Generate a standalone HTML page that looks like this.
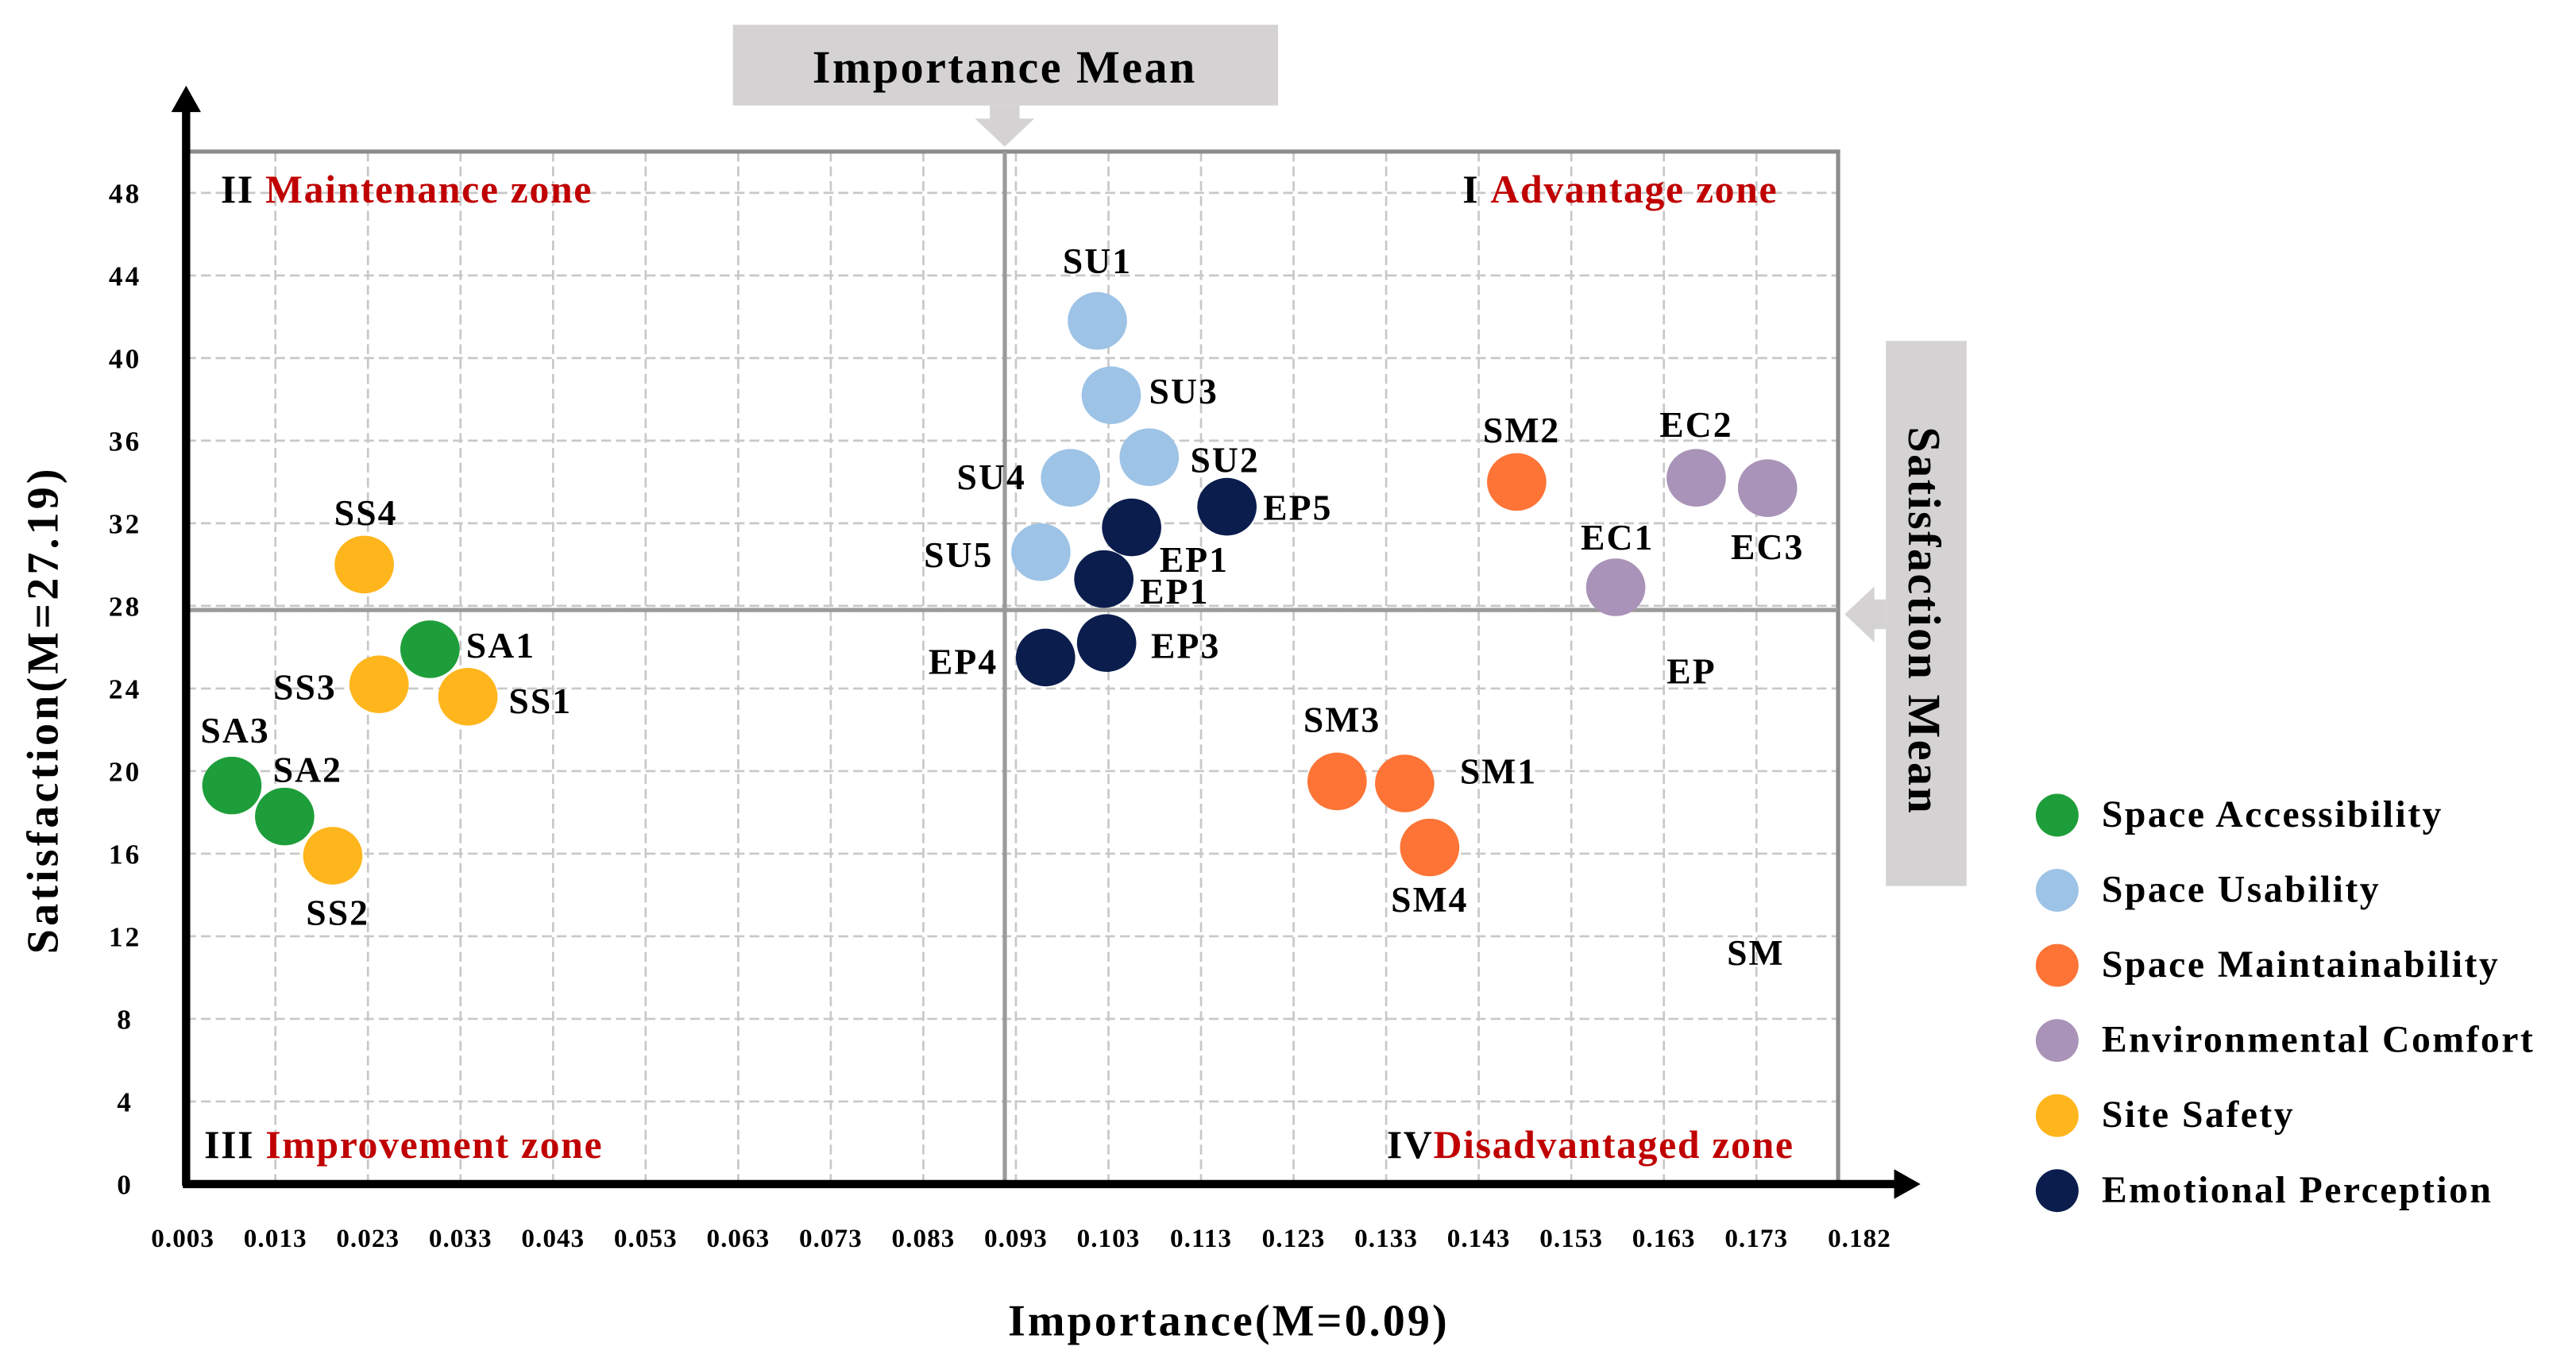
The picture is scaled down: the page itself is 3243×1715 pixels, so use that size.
<!DOCTYPE html>
<html><head><meta charset="utf-8"><style>
html,body{margin:0;padding:0;background:#fff;}
svg{display:block;font-family:"Liberation Serif",serif;font-weight:bold;}
</style></head><body>
<svg id="chart" width="3243" height="1715" viewBox="0 0 1564 827" xmlns="http://www.w3.org/2000/svg">
<g id="grid"></g>
<rect x="113" y="92" width="1003" height="627" fill="none" stroke="#8c8c8c" stroke-width="2.5"/>
<g id="means"></g>
<line x1="113" y1="720" x2="113" y2="66" stroke="#000" stroke-width="5"/>
<polygon points="104,68 122,68 113,52" fill="#000"/>
<line x1="111" y1="719" x2="1152" y2="719" stroke="#000" stroke-width="5"/>
<polygon points="1150,710 1150,728 1166,719" fill="#000"/>
<g id="ticks" font-size="16"></g>
<text x="746" y="811" font-size="27" letter-spacing="1.5" text-anchor="middle">Importance(M=0.09)</text>
<text transform="translate(35,431) rotate(-90)" font-size="27" letter-spacing="2" text-anchor="middle">Satisfaction(M=27.19)</text>
<rect x="445" y="15" width="331" height="49" fill="#d4d2d2"/>
<text x="610" y="50" font-size="28" letter-spacing="1.2" text-anchor="middle">Importance Mean</text>
<polygon points="601,64 619,64 619,72 628,72 610,89 592,72 601,72" fill="#d4d2d2"/>
<rect x="1145" y="207" width="49" height="331" fill="#d4d2d2"/>
<text transform="translate(1159,377) rotate(90)" font-size="28" letter-spacing="1.2" text-anchor="middle">Satisfaction Mean</text>
<polygon points="1145,364 1138,364 1138,356 1120,373 1138,390 1138,382 1145,382" fill="#d4d2d2"/>
<g font-size="24" letter-spacing="0.8">
<text x="134" y="123">II <tspan fill="#c00000">Maintenance zone</tspan></text>
<text x="888" y="123">I  <tspan fill="#c00000">Advantage zone</tspan></text>
<text x="124" y="703">III <tspan fill="#c00000">Improvement zone</tspan></text>
<text x="842" y="703">IV<tspan fill="#c00000">Disadvantaged zone</tspan></text>
</g>
<g id="points"></g>
<g id="labels" font-size="22" letter-spacing="1"></g>
<g id="legend" font-size="23" letter-spacing="1.2"></g>
</svg>
<script>
const xTicks = ["0.003","0.013","0.023","0.033","0.043","0.053","0.063","0.073","0.083","0.093","0.103","0.113","0.123","0.133","0.143","0.153","0.163","0.173","0.182"];
const yTicks = [0,4,8,12,16,20,24,28,32,36,40,44,48];
const meanX = 0.0918;
const meanY = 27.8;
const names = ["SU1","SU3","SU2","SU4","SU5","EP5","EP1","EP1","EP3","EP4","SM2","EC2","EC3","EC1","SM3","SM1","SM4","SS4","SA1","SS3","SS1","SA3","SA2","SS2"];
const importance = [0.1018,0.1033,0.1074,0.0989,0.0957,0.1158,0.1055,0.1025,0.1028,0.0962,0.1471,0.1665,0.1742,0.1578,0.1277,0.1350,0.1377,0.0226,0.0297,0.0242,0.0338,0.0083,0.0140,0.0192];
const satisfaction = [41.8,38.2,35.2,34.2,30.6,32.8,31.8,29.3,26.2,25.5,34.0,34.2,33.7,28.9,19.5,19.4,16.3,30.0,25.9,24.2,23.6,19.3,17.8,15.9];
const groups = [1,1,1,1,1,5,5,5,5,5,2,3,3,3,2,2,2,4,0,4,4,0,0,4];
const categories = ["Space Accessibility","Space Usability","Space Maintainability","Environmental Comfort","Site Safety","Emotional Perception"];
const colors = ["#1e9e3a","#9dc3e6","#fd7436","#a993b8","#ffb61c","#0a1d4d"];
const lab = [[0,-36],[44,-2],[46,2],[-48,0],[-50,2],[43,1],[38,20],[43,8],[48,2],[-50,3],[3,-31],[0,-32],[0,36],[1,-30],[3,-37],[57,-7],[0,32],[1,-31],[43,-2],[-45,2],[44,3],[2,-33],[14,-28],[3,35]];
const NS="http://www.w3.org/2000/svg";
function xs(v){return 111+(v-0.003)*5620;}
function ys(v){return 719-v*12.54;}
function mk(t,a,p){const e=document.createElementNS(NS,t);for(const k in a)e.setAttribute(k,a[k]);p.appendChild(e);return e;}
const grid=document.getElementById('grid');
yTicks.forEach(v=>{if(v===0)return;const l=mk('line',{x1:113,x2:1116,y1:ys(v),y2:ys(v),stroke:'#c8c8c8','stroke-width':1.3,'stroke-dasharray':'6,3'},grid);

});
xTicks.forEach(s=>{const v=parseFloat(s);if(v<0.01||v>0.18)return;const l=mk('line',{x1:xs(v),x2:xs(v),y1:92,y2:719,stroke:'#c8c8c8','stroke-width':1.3,'stroke-dasharray':'6,3'},grid);

});
const means=document.getElementById('means');
const mx=mk('line',{x1:xs(meanX),x2:xs(meanX),y1:92,y2:719,stroke:'#9a9a9a','stroke-width':2.5},means);


const my=mk('line',{x1:113,x2:1116,y1:ys(meanY),y2:ys(meanY),stroke:'#9a9a9a','stroke-width':2.5},means);


const ticks=document.getElementById('ticks');
xTicks.forEach(s=>{const v=parseFloat(s);const t=mk('text',{x:xs(v)+(v>0.18?12:0),y:757,'text-anchor':'middle','letter-spacing':0.5},ticks);t.textContent=s;

});
yTicks.forEach(v=>{const t=mk('text',{x:76,y:ys(v)+6,'text-anchor':'middle','letter-spacing':1.5,'font-size':17},ticks);t.textContent=v;

});
const pts=document.getElementById('points'),labs=document.getElementById('labels');
names.forEach((n,i)=>{const cx=xs(importance[i]),cy=ys(satisfaction[i]);
const c=mk('ellipse',{cx:cx,cy:cy,rx:18,ry:17.5,fill:colors[groups[i]]},pts);


const t=mk('text',{x:cx+lab[i][0],y:cy+lab[i][1]+7,'text-anchor':'middle'},labs);t.textContent=n;

});
const e1=mk('text',{x:1027,y:415,'text-anchor':'middle'},labs);e1.textContent='EP';


const e2=mk('text',{x:1066,y:586,'text-anchor':'middle'},labs);e2.textContent='SM';


const leg=document.getElementById('legend');
categories.forEach((c,i)=>{const y=495+i*45.6;
const m=mk('circle',{cx:1249,cy:y,r:13,fill:colors[i]},leg);


const t=mk('text',{x:1276,y:y+7},leg);t.textContent=c;

});
</script>
</body></html>
